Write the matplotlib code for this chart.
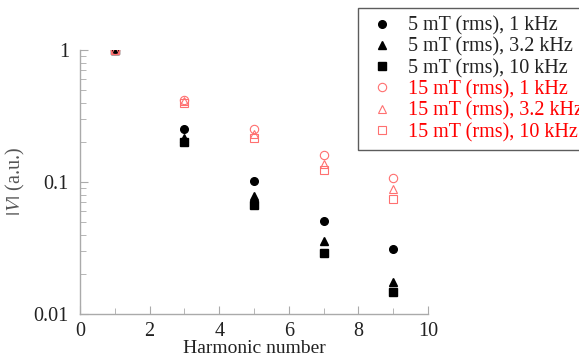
import matplotlib
matplotlib.use("Agg")
import matplotlib.pyplot as plt
from matplotlib.ticker import FixedLocator, NullFormatter, LogLocator

harmonics = [1, 3, 5, 7, 9]
v_5mT_1k = [1.0, 0.253, 0.102, 0.051, 0.031]
v_5mT_3k2 = [1.0, 0.215, 0.079, 0.036, 0.0176]
v_5mT_10k = [1.0, 0.200, 0.067, 0.029, 0.0146]
v_15mT_1k = [1.0, 0.42, 0.25, 0.16, 0.107]
v_15mT_3k2 = [1.0, 0.41, 0.232, 0.138, 0.088]
v_15mT_10k = [1.0, 0.40, 0.215, 0.123, 0.074]

labels = ["5 mT (rms), 1 kHz", "5 mT (rms), 3.2 kHz", "5 mT (rms), 10 kHz",
          "15 mT (rms), 1 kHz", "15 mT (rms), 3.2 kHz", "15 mT (rms), 10 kHz"]

plt.rcParams['font.family'] = ['Liberation Serif', 'DejaVu Serif']
plt.rcParams['mathtext.fontset'] = 'stix'

fs = 14.5
fig = plt.figure(figsize=(5.79, 3.59), dpi=100)
ax = fig.add_axes([80/579, 1-314/359, 348/579, 264/359])

red = '#ff7070'
ax.plot(harmonics, v_5mT_1k, 'o', ms=5.5, color='black', label=labels[0], zorder=2)
ax.plot(harmonics, v_5mT_3k2, '^', ms=5.5, color='black', label=labels[1], zorder=2)
ax.plot(harmonics, v_5mT_10k, 's', ms=5.5, color='black', label=labels[2], zorder=2)
ax.plot(harmonics, v_15mT_1k, 'o', ms=6, mfc='none', mec=red, mew=0.8, label=labels[3], zorder=3)
ax.plot(harmonics, v_15mT_3k2, '^', ms=6, mfc='none', mec=red, mew=0.8, label=labels[4], zorder=3)
ax.plot(harmonics, v_15mT_10k, 's', ms=6, mfc='none', mec=red, mew=0.8, label=labels[5], zorder=3)

ax.set_yscale('log')
ax.set_ylim(0.01, 1)
ax.set_xlim(0, 10)
ax.set_xticks([0, 2, 4, 6, 8, 10])
ax.xaxis.set_minor_locator(FixedLocator([1, 3, 5, 7, 9]))
ax.set_yticks([0.01, 0.1, 1])
ax.set_yticklabels(['0.01', '0.1', '1'])
ax.yaxis.set_minor_locator(LogLocator(base=10, subs=range(2, 10)))
ax.yaxis.set_minor_formatter(NullFormatter())

for s in ['top', 'right']:
    ax.spines[s].set_visible(False)
for s in ['left', 'bottom']:
    ax.spines[s].set_color('#aaaaaa')
    ax.spines[s].set_linewidth(1.0)

ax.tick_params(which='both', direction='in', color='#aaaaaa', labelsize=fs, labelcolor='#222222')
ax.tick_params(which='major', length=6)
ax.tick_params(which='minor', length=4)
ax.tick_params(axis='x', pad=6)
ax.tick_params(axis='y', pad=8)

ax.set_xlabel('Harmonic number', fontsize=14, color='#222222', labelpad=-1)
ax.set_ylabel(r'$|V|$ (a.u.)', fontsize=fs, color='#555555', labelpad=5)

handles, labs = ax.get_legend_handles_labels()
leg = fig.legend(handles, labs, loc='upper left', bbox_to_anchor=(358/579, 1-8/359),
                 fontsize=fs, frameon=True, fancybox=False, edgecolor='#333333',
                 borderpad=0.42, labelspacing=0.1, handletextpad=0.55, handlelength=1.5,
                 borderaxespad=0)
leg.get_frame().set_linewidth(1.0)
for i, t in enumerate(leg.get_texts()):
    t.set_color('#222222' if i < 3 else 'red')

fig.savefig('out.png', dpi=100)
